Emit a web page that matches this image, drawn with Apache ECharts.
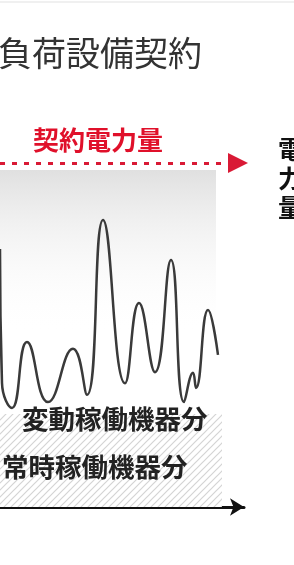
<!DOCTYPE html>
<html>
<head>
<meta charset="utf-8">
<script src="https://cdn.jsdelivr.net/npm/echarts@6/dist/echarts.min.js"></script>
<style>
  html, body { margin: 0; padding: 0; background: #fff; }
  #chart { width: 294px; height: 565px; }
</style>
</head>
<body>
<div id="chart"></div>
<script>
// 時間軸（任意単位）と負荷（契約電力量 = 100）
var timePts = [0, 2, 12, 27, 48, 73, 87, 103, 125, 139, 155, 171, 184, 193, 196, 208, 218];
var loadVals = [75, 36, 28.8, 48, 30.5, 46, 32.6, 83.4, 36, 59.3, 39.2, 71.8, 30.5, 39, 34.6, 57.3, 44.2];

var contractPower = 100;      // 契約電力量
var baseLoad = 27;            // 常時稼働機器分
var grayBand = [98, 50];      // 変動稼働 背景
var timeRange = [0, 244];
var bandEnd = 216;
var hatchEnd = 222;
var contractArrowEnd = 238;

var titleText = '負荷設備契約';
var contractLabel = '契約電力量';
var varLabel = '変動稼働機器分';
var baseLabel = '常時稼働機器分';
var yAxisName = '電力量';

var FONT = '"Noto Sans CJK JP", "Noto Sans", sans-serif';

// 斜線パターン
function makeHatch() {
    var c = document.createElement('canvas');
    c.width = 7;
    c.height = 7;
    var ctx = c.getContext('2d');
    ctx.fillStyle = '#ffffff';
    ctx.fillRect(0, 0, 7, 7);
    ctx.strokeStyle = '#d4d4d4';
    ctx.lineWidth = 1.2;
    ctx.beginPath();
    ctx.moveTo(-1, 8); ctx.lineTo(8, -1);
    ctx.moveTo(-1, 1); ctx.lineTo(1, -1);
    ctx.moveTo(6, 8); ctx.lineTo(8, 6);
    ctx.stroke();
    return c;
}

var chart = echarts.init(document.getElementById('chart'));

var linePoints = timePts.map(function (t, i) { return [t, loadVals[i]]; });

chart.setOption({
    animation: false,
    backgroundColor: '#ffffff',
    grid: { left: 0, right: 294 - timeRange[1], top: 163, bottom: 58 },
    xAxis: {
        type: 'value',
        min: timeRange[0],
        max: timeRange[1],
        axisLine: {
            show: true,
            symbol: ['none', 'arrow'],
            symbolSize: [13, 14],
            lineStyle: { color: '#111', width: 3 }
        },
        axisTick: { show: false },
        axisLabel: { show: false },
        splitLine: { show: false }
    },
    yAxis: {
        type: 'value',
        min: 0,
        max: contractPower,
        show: false
    },
    series: [{
        type: 'line',
        data: linePoints,
        smooth: 0.5,
        symbol: 'none',
        clip: true,
        z: 5,
        lineStyle: { color: '#3a3a3a', width: 2.5 },
        markArea: {
            silent: true,
            data: [
                [{
                    coord: [timeRange[0], grayBand[0]],
                    itemStyle: {
                        color: new echarts.graphic.LinearGradient(0, 0, 0, 1, [
                            { offset: 0, color: '#e0e0e0' },
                            { offset: 1, color: 'rgba(255,255,255,0)' }
                        ])
                    }
                }, { coord: [bandEnd, grayBand[1]] }],
                [{
                    coord: [timeRange[0], baseLoad],
                    itemStyle: { color: { image: makeHatch(), repeat: 'repeat' } }
                }, { coord: [hatchEnd, 0] }]
            ]
        },
        markLine: {
            silent: true,
            symbol: ['none', 'triangle'],
            symbolSize: [20, 20],
            label: { show: false },
            lineStyle: { color: '#d91a35', width: 3, type: [5, 7] },
            data: [[
                { coord: [timeRange[0], contractPower] },
                { coord: [contractArrowEnd, contractPower] }
            ]]
        }
    }],
    graphic: [
        { type: 'rect', shape: { x: 0, y: 1, width: 294, height: 2 }, style: { fill: '#f0f0f0' } },
        { type: 'text', left: -2, top: 36, style: { text: titleText, font: '34px ' + FONT, fill: '#333' } },
        { type: 'text', left: 33, top: 127, style: { text: contractLabel, font: 'bold 26px ' + FONT, fill: '#e0102a' } },
        { type: 'text', left: 22, top: 406, z: 10, style: { text: varLabel, font: 'bold 26.5px ' + FONT, fill: '#222' } },
        { type: 'text', left: 2, top: 454, z: 10, style: { text: baseLabel, font: 'bold 26.5px ' + FONT, fill: '#222' } },
        { type: 'text', left: 278, top: 135, style: { text: yAxisName.split('').join('\n'), font: 'bold 25px ' + FONT, lineHeight: 29, fill: '#111' } }
    ]
});
</script>
</body>
</html>
